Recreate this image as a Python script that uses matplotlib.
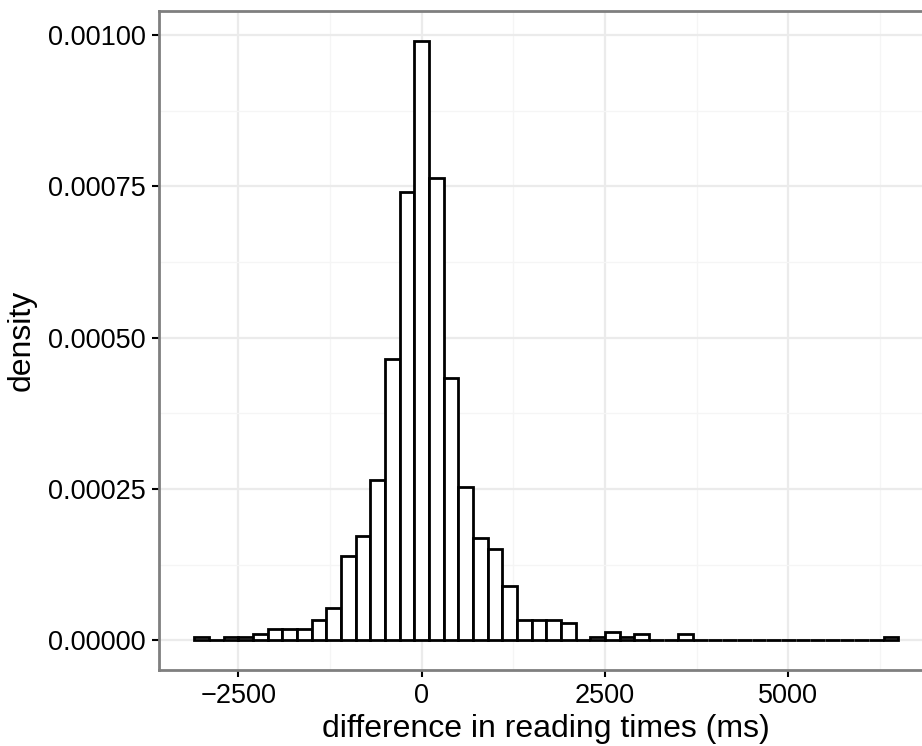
import numpy as np
import matplotlib
matplotlib.use("Agg")
import matplotlib.pyplot as plt
from matplotlib.ticker import FixedLocator, FuncFormatter

plt.rcParams['font.family'] = ['Liberation Sans', 'DejaVu Sans']

# histogram bins: 200 ms wide, first bin centred on -3000
bin_start = -3100
bin_width = 200
density = [
    0.0000045, 0.0, 0.0000045, 0.0000045, 0.0000095,      # -3000 .. -2200
    0.0000187, 0.0000187, 0.0000187, 0.0000341, 0.000054,  # -2000 .. -1200
    0.000139, 0.000173, 0.000264, 0.000464, 0.000740,      # -1000 .. -200
    0.000991, 0.000764, 0.000434, 0.000254, 0.000169,      # 0 .. 800
    0.000150, 0.0000892, 0.0000341, 0.0000341, 0.0000341,  # 1000 .. 1800
    0.0000292, 0.0, 0.0000045, 0.0000137, 0.0000045,       # 2000 .. 2800
    0.0000095, 0.0, 0.0, 0.0000095, 0.0,                   # 3000 .. 3800
    0.0, 0.0, 0.0, 0.0, 0.0,                               # 4000 .. 4800
    0.0, 0.0, 0.0, 0.0, 0.0,                               # 5000 .. 5800
    0.0, 0.0, 0.0000045,                                   # 6000 .. 6400
]
x_major = [-2500, 0, 2500, 5000]
x_minor = [-1250, 1250, 3750, 6250]
y_major = [0.0, 0.00025, 0.0005, 0.00075, 0.001]
y_minor = [0.000125, 0.000375, 0.000625, 0.000875]

density = np.array(density)
edges = bin_start + bin_width * np.arange(len(density) + 1)
centers = (edges[:-1] + edges[1:]) / 2

W, H = 922, 746
fig = plt.figure(figsize=(W / 100, H / 100), dpi=100)

# ggplot style 5% expansion of the data range
x_lo, x_hi = edges[0], edges[-1]
x_pad = 0.05 * (x_hi - x_lo)
y_pad = 0.05 * density.max()
xlim = (x_lo - x_pad, x_hi + x_pad)
ylim = (-y_pad, density.max() + y_pad)

# panel placement in pixels (right side runs past the image edge)
left_px, top_px, bottom_px = 159, 10.6, 670.2
px_per_unit = 183.4 / 2500
width_px = (xlim[1] - xlim[0]) * px_per_unit
ax = fig.add_axes([left_px / W, 1 - bottom_px / H, width_px / W, (bottom_px - top_px) / H])

ax.set_xlim(*xlim)
ax.set_ylim(*ylim)

# grid
ax.xaxis.set_major_locator(FixedLocator(x_major))
ax.xaxis.set_minor_locator(FixedLocator(x_minor))
ax.yaxis.set_major_locator(FixedLocator(y_major))
ax.yaxis.set_minor_locator(FixedLocator(y_minor))
ax.grid(True, which='major', color='#ebebeb', linewidth=1.6, zorder=0)
ax.grid(True, which='minor', color='#f5f5f5', linewidth=0.9, zorder=0)
ax.set_axisbelow(True)

ax.bar(centers, density, width=bin_width, color='white', edgecolor='black',
       linewidth=2.0, zorder=2)

for s in ax.spines.values():
    s.set_color('#7f7f7f')
    s.set_linewidth(2.0)
ax.spines['right'].set_visible(False)  # falls outside the picture

ax.tick_params(which='major', length=5, width=1.5, color='black',
               labelsize=19.5, labelcolor='black', pad=4.5)
ax.tick_params(which='minor', length=0)
ax.yaxis.set_major_formatter(FuncFormatter(lambda v, p: f"{v:.5f}"))
ax.xaxis.set_major_formatter(FuncFormatter(lambda v, p: f"{int(v)}".replace('-', '\u2212')))

ax.set_xlabel('difference in reading times (ms)', fontsize=23)
ax.set_ylabel('density', fontsize=23)
ax.yaxis.set_label_coords(-(159 - 37) / width_px, 0.5)
ax.xaxis.set_label_coords((546 - left_px) / width_px, -(714 - bottom_px) / (bottom_px - top_px))

fig.savefig('out.png', dpi=100)
